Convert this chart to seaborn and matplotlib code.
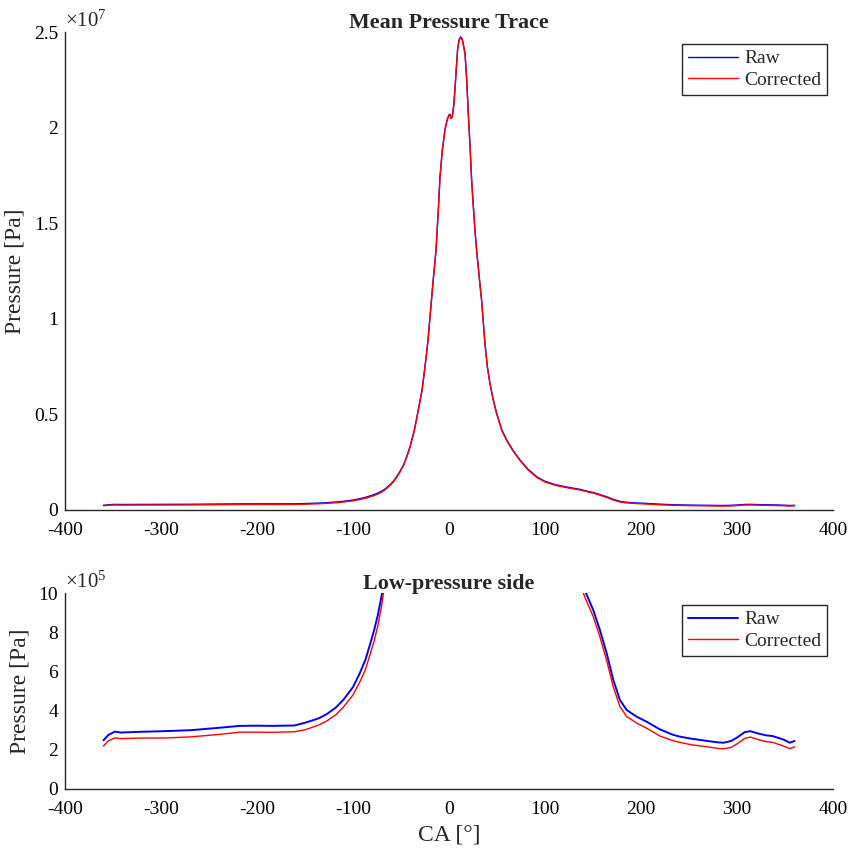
"""Mean in-cylinder pressure trace, raw vs. offset-corrected."""

import matplotlib

matplotlib.use("Agg")
import matplotlib.pyplot as plt
import pandas as pd
import seaborn as sns
from matplotlib.ticker import FuncFormatter, MultipleLocator

# crank angle [deg] and pressure [Pa]
CRANK_ANGLE = [
    -360, -355, -348, -342, -320, -297, -269, -240, -218, -200, -184, -161,
    -150, -144, -135, -127, -118, -110, -100, -93, -87, -82, -78, -74, -70,
    -66, -62, -58, -54.5, -51, -47, -44, -40.6, -36, -32, -28, -25, -22,
    -19.8, -16.5, -13.5, -11, -9.4, -7, -4.2, -2, 0, 1, 2.1, 3.5, 5, 6.2,
    7.5, 9, 10.5, 12.2, 14, 16.7, 18.5, 20.1, 22, 23.6, 25.5, 27, 28.8, 31.5,
    34, 37.5, 40, 42.7, 46, 49.7, 55, 60.1, 67, 74, 82, 91.4, 100, 112, 125,
    136.5, 142.7, 150.3, 157.3, 164.3, 171.2, 178.1, 185.1, 195.5, 206,
    219.8, 233.6, 240.6, 252, 269, 280, 286, 294, 300, 308, 314, 322, 330,
    337, 348, 355, 360,
]
PRESSURE_RAW = [
    2.48e5, 2.75e5, 2.93e5, 2.88e5, 2.92e5, 2.95e5, 3.00e5, 3.12e5, 3.22e5,
    3.23e5, 3.22e5, 3.24e5, 3.38e5, 3.47e5, 3.62e5, 3.83e5, 4.15e5, 4.55e5,
    5.20e5, 5.90e5, 6.60e5, 7.42e5, 8.10e5, 8.90e5, 9.90e5, 1.12e6, 1.30e6,
    1.50e6, 1.74e6, 2.02e6, 2.40e6, 2.80e6, 3.31e6, 4.20e6, 5.23e6, 6.30e6,
    7.50e6, 8.80e6, 1.01e7, 1.20e7, 1.36e7, 1.58e7, 1.74e7, 1.88e7, 1.99e7,
    2.04e7, 2.066e7, 2.07e7, 2.05e7, 2.06e7, 2.12e7, 2.20e7, 2.30e7, 2.41e7,
    2.46e7, 2.475e7, 2.46e7, 2.39e7, 2.25e7, 2.075e7, 1.90e7, 1.726e7, 1.58e7,
    1.47e7, 1.36e7, 1.22e7, 1.098e7, 8.72e6, 7.50e6, 6.63e6, 5.80e6, 5.06e6,
    4.20e6, 3.66e6, 3.10e6, 2.62e6, 2.15e6, 1.74e6, 1.50e6, 1.31e6, 1.18e6,
    1.08e6, 1.00e6, 9.13e5, 8.10e5, 6.92e5, 5.56e5, 4.54e5, 4.03e5, 3.69e5,
    3.43e5, 3.04e5, 2.76e5, 2.67e5, 2.57e5, 2.45e5, 2.38e5, 2.36e5, 2.45e5,
    2.62e5, 2.90e5, 2.95e5, 2.83e5, 2.74e5, 2.70e5, 2.53e5, 2.36e5, 2.45e5,
]
PRESSURE_CORRECTED = [
    2.19e5, 2.45e5, 2.61e5, 2.57e5, 2.60e5, 2.60e5, 2.66e5, 2.78e5, 2.90e5,
    2.90e5, 2.89e5, 2.92e5, 3.02e5, 3.12e5, 3.28e5, 3.48e5, 3.78e5, 4.18e5,
    4.80e5, 5.45e5, 6.10e5, 6.90e5, 7.55e5, 8.35e5, 9.40e5, 1.08e6, 1.265e6,
    1.465e6, 1.705e6, 1.985e6, 2.365e6, 2.765e6, 3.275e6, 4.165e6, 5.195e6,
    6.265e6, 7.465e6, 8.765e6, 1.0065e7, 1.1965e7, 1.3565e7, 1.5765e7,
    1.7365e7, 1.8765e7, 1.9865e7, 2.0365e7, 2.0625e7, 2.0665e7, 2.0465e7,
    2.0565e7, 2.1165e7, 2.1965e7, 2.2965e7, 2.4065e7, 2.4565e7, 2.4715e7,
    2.4565e7, 2.3865e7, 2.2465e7, 2.0715e7, 1.8965e7, 1.7225e7, 1.5765e7,
    1.4665e7, 1.3565e7, 1.2165e7, 1.0945e7, 8.685e6, 7.465e6, 6.595e6,
    5.765e6, 5.025e6, 4.165e6, 3.625e6, 3.065e6, 2.585e6, 2.115e6, 1.705e6,
    1.465e6, 1.275e6, 1.145e6, 1.045e6, 9.65e5, 8.80e5, 7.75e5, 6.55e5,
    5.20e5, 4.20e5, 3.70e5, 3.36e5, 3.10e5, 2.70e5, 2.46e5, 2.38e5, 2.26e5,
    2.15e5, 2.07e5, 2.05e5, 2.12e5, 2.30e5, 2.58e5, 2.65e5, 2.52e5, 2.42e5,
    2.38e5, 2.20e5, 2.06e5, 2.15e5,
]

AXIS_COLOR = "#262626"


def _style_axis(axis, scale, exponent, title, legend_anchor):
    axis.set_xlim(-400, 400)
    axis.xaxis.set_major_locator(MultipleLocator(100))
    axis.yaxis.set_major_formatter(FuncFormatter(lambda v, _: f"{v / scale:g}"))
    axis.tick_params(direction="in", length=6, width=0.8, colors=AXIS_COLOR,
                     labelcolor="black", labelsize=14)
    axis.tick_params(axis="x", pad=9)
    axis.tick_params(axis="y", pad=5)
    for side in ("top", "right"):
        axis.spines[side].set_visible(False)
    for side in ("left", "bottom"):
        axis.spines[side].set_color(AXIS_COLOR)
        axis.spines[side].set_linewidth(1.0)
    axis.set_title(title, fontsize=15.8, fontweight="bold", pad=3)
    axis.set_ylabel("Pressure [Pa]", fontsize=17, labelpad=6)
    axis.text(0.0, 1.0, rf"$\times10^{{{exponent}}}$", transform=axis.transAxes,
              fontsize=15, ha="left", va="bottom")
    axis.legend(loc="upper right", bbox_to_anchor=legend_anchor,
                borderaxespad=0, fontsize=14, frameon=True, fancybox=False,
                edgecolor=AXIS_COLOR, framealpha=1, borderpad=0.3,
                handlelength=2.6, handletextpad=0.3, labelspacing=0.2)


sns.set_style("white")
plt.rcParams["font.family"] = ["Liberation Serif", "DejaVu Serif"]
plt.rcParams["mathtext.fontset"] = "custom"
plt.rcParams["mathtext.rm"] = "Liberation Serif"
plt.rcParams["mathtext.it"] = "Liberation Serif"
plt.rcParams["axes.unicode_minus"] = False

trace = pd.DataFrame(
    {"ca": CRANK_ANGLE, "raw": PRESSURE_RAW, "corrected": PRESSURE_CORRECTED}
)

figure = plt.figure(figsize=(8.53, 8.49), dpi=100)
top = figure.add_axes([0.0762, 0.3993, 0.9003, 0.5630])
bottom = figure.add_axes([0.0762, 0.0707, 0.9003, 0.2308])

sns.lineplot(data=trace, x="ca", y="raw", ax=top, color="blue", linewidth=1.0,
             sort=False, estimator=None, label="Raw")
sns.lineplot(data=trace, x="ca", y="corrected", ax=top, color="red",
             linewidth=1.0, sort=False, estimator=None, label="Corrected")
top.set_ylim(0, 2.5e7)
top.yaxis.set_major_locator(MultipleLocator(0.5e7))
top.set_xlabel("")
_style_axis(top, 1e7, 7, "Mean Pressure Trace", (1 - 6 / 768, 1 - 12 / 478))

sns.lineplot(data=trace, x="ca", y="raw", ax=bottom, color="blue",
             linewidth=1.4, sort=False, estimator=None, label="Raw")
sns.lineplot(data=trace, x="ca", y="corrected", ax=bottom, color="red",
             linewidth=1.0, sort=False, estimator=None, label="Corrected")
bottom.set_ylim(0, 1e6)
bottom.yaxis.set_major_locator(MultipleLocator(2e5))
bottom.set_xlabel("CA [°]", fontsize=17, labelpad=4)
_style_axis(bottom, 1e5, 5, "Low-pressure side", (1 - 6 / 768, 1 - 12 / 196))

figure.savefig("out.png", dpi=100)
plt.close(figure)
